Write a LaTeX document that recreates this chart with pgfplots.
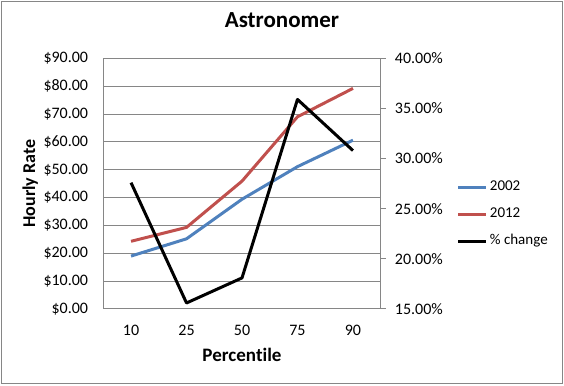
\documentclass[border=0pt]{standalone}
\usepackage{pgfplots}
\pgfplotsset{compat=1.18}
\usepackage{fontspec}
\setmainfont{Carlito}[Ligatures=NoCommon]
\definecolor{xblue}{HTML}{4F81BD}
\definecolor{xred}{HTML}{C0504D}
\definecolor{xgrid}{HTML}{868686}
\begin{document}
\begin{tikzpicture}[x=1pt,y=1pt]
\path (0,0) rectangle (564,385);
\draw[xgrid, line width=1pt] (1.5,1.5) rectangle (562.5,383.5);
\begin{axis}[
  at={(103.3pt,76pt)}, anchor=south west,
  width=277.4pt, height=250.7pt, scale only axis,
  xmin=-0.5, xmax=4.5, ymin=0, ymax=90,
  xtick={0,1,2,3,4}, xticklabels={10,25,50,75,90},
  ytick={0,10,20,30,40,50,60,70,80,90},
  yticklabels={\$0.00,\$10.00,\$20.00,\$30.00,\$40.00,\$50.00,\$60.00,\$70.00,\$80.00,\$90.00},
  axis x line*=bottom, axis y line*=left,
  axis line style={draw=xgrid, line width=1pt, -},
  major tick length=0pt,
  ymajorgrids, grid style={draw=xgrid, line width=1pt},
  ticklabel style={font=\fontsize{16}{19}\selectfont, inner sep=0pt},
  xticklabel style={yshift=-16pt},
  yticklabel style={xshift=-15pt},
  xlabel={Percen\kern0pt tile},
  xlabel style={at={(axis description cs:0.5,0)}, anchor=base, yshift=-52.7pt, font=\fontsize{19}{22}\selectfont\bfseries},
  ylabel={Hourly Rate},
  ylabel style={at={(axis description cs:-0.2462,0.5)}, anchor=base, font=\fontsize{18}{21}\selectfont\bfseries},
  title={Astronomer},
  title style={at={(axis description cs:0.6442,1.0997)}, anchor=base, font=\fontsize{23}{27}\selectfont\bfseries},
  clip=false,
]
\addplot[xblue, line width=3pt, line join=round] coordinates {(0,19.0) (1,25.2) (2,39.4) (3,51.1) (4,60.6)};
\addplot[xred, line width=3pt, line join=round] coordinates {(0,24.3) (1,29.3) (2,45.9) (3,69.0) (4,79.2)};
\end{axis}
\begin{axis}[
  at={(103.3pt,76pt)}, anchor=south west,
  width=277.4pt, height=250.7pt, scale only axis,
  xmin=-0.5, xmax=4.5, ymin=15, ymax=40,
  axis x line=none, axis y line*=right,
  ytick={15,20,25,30,35,40},
  yticklabels={15.00\%,20.00\%,25.00\%,30.00\%,35.00\%,40.00\%},
  axis line style={draw=xgrid, line width=1pt, -},
  ytick style={draw=xgrid, line width=1pt},
  tick align=outside, major tick length=5pt,
  yticklabel style={font=\fontsize{16}{19}\selectfont, inner sep=0pt, xshift=9pt},
  legend style={at={(axis description cs:1.274,0.5146)}, anchor=north west, draw=none, fill=none, inner sep=0pt,
    font=\fontsize{15}{18}\selectfont, row sep=13pt, column sep=2pt,
    nodes={inner sep=0pt, text height=10pt, text depth=4pt}},
  legend cell align=left,
  legend image code/.code={\draw[#1] (0pt,0pt) -- (28pt,0pt);},
  clip=false,
]
\addlegendimage{xblue, line width=3pt}
\addlegendentry{2002}
\addlegendimage{xred, line width=3pt}
\addlegendentry{2012}
\addplot[black, line width=3pt, line join=round] coordinates {(0,27.6) (1,15.6) (2,18.1) (3,35.9) (4,30.8)};
\addlegendentry{\% change}
\end{axis}
\pgfresetboundingbox
\path (0,0) rectangle (564,385);
\end{tikzpicture}
\end{document}
